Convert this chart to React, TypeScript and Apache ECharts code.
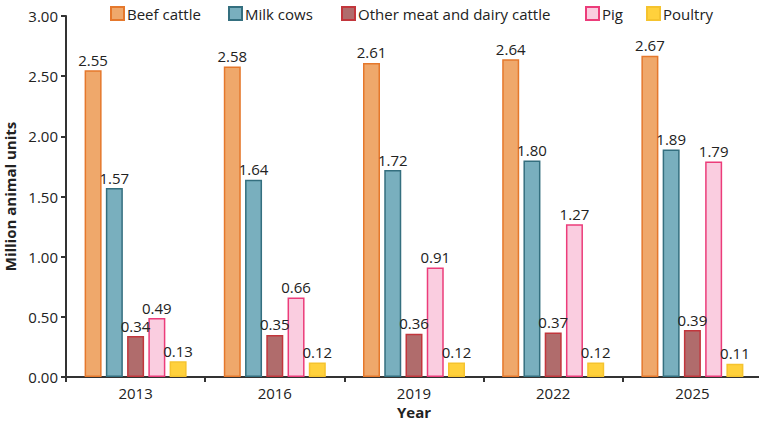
import React, { useEffect, useRef } from "react";
import * as echarts from "echarts";

const years = ["2013", "2016", "2019", "2022", "2025"];
const beefCattle = [2.55, 2.58, 2.61, 2.64, 2.67];
const milkCows = [1.57, 1.64, 1.72, 1.8, 1.89];
const otherCattle = [0.34, 0.35, 0.36, 0.37, 0.39];
const pig = [0.49, 0.66, 0.91, 1.27, 1.79];
const poultry = [0.13, 0.12, 0.12, 0.12, 0.11];

const FONT = "'Open Sans', 'Noto Sans', sans-serif";

const seriesDefs = [
  { name: "Beef cattle", data: beefCattle, fill: "#EFA86B", border: "#E5782C", legendLeft: 110 },
  { name: "Milk cows", data: milkCows, fill: "#79AFBE", border: "#346F7F", legendLeft: 228 },
  { name: "Other meat and dairy cattle", data: otherCattle, fill: "#B06C6C", border: "#C2363C", legendLeft: 341 },
  { name: "Pig", data: pig, fill: "#FACDE0", border: "#EC3C7A", legendLeft: 585 },
  { name: "Poultry", data: poultry, fill: "#FFD13C", border: "#F5C32E", legendLeft: 646 },
];

export default function App() {
  const ref = useRef<HTMLDivElement>(null);

  useEffect(() => {
    document.body.style.margin = "0";
    if (!ref.current) return;
    const chart = echarts.init(ref.current, undefined, { renderer: "svg" });

    chart.setOption({
      animation: false,
      backgroundColor: "#ffffff",
      textStyle: { fontFamily: FONT },
      legend: seriesDefs.map((s) => ({
        data: [s.name],
        left: s.legendLeft,
        top: 6,
        itemWidth: 13,
        itemHeight: 13,
        itemGap: 0,
        padding: 0,
        icon: "rect",
        textStyle: { fontSize: 15, color: "#222", fontFamily: FONT, padding: [0, 0, 0, -2] },
      })),
      grid: { left: 66, right: -3, top: 16, bottom: 46, containLabel: false, outerBoundsMode: "none" },
      xAxis: {
        type: "category",
        data: years,
        name: "Year",
        nameLocation: "middle",
        nameGap: 24,
        nameTextStyle: { fontSize: 15, fontWeight: "bold", color: "#222", fontFamily: FONT },
        axisLine: { lineStyle: { color: "#333", width: 2 } },
        axisTick: { show: true, length: 5, lineStyle: { color: "#333", width: 2 } },
        axisLabel: { fontSize: 15, color: "#222", margin: 8, fontFamily: FONT },
      },
      yAxis: {
        type: "value",
        min: 0,
        max: 3,
        interval: 0.5,
        name: "Million animal units",
        nameLocation: "middle",
        nameGap: 46,
        nameTextStyle: { fontSize: 15, fontWeight: "bold", color: "#222", fontFamily: FONT },
        axisLine: { show: true, lineStyle: { color: "#333", width: 2 } },
        axisTick: { show: true, length: 5, lineStyle: { color: "#333", width: 2 } },
        axisLabel: { fontSize: 15, color: "#222", margin: 8, formatter: (v: number) => v.toFixed(2), fontFamily: FONT },
        splitLine: { show: false },
      },
      series: seriesDefs.map((s) => ({
        name: s.name,
        type: "bar",
        data: s.data,
        barWidth: 17,
        barGap: "25%",
        itemStyle: { color: s.fill, borderColor: s.border, borderWidth: 1.5 },
        label: {
          show: true,
          position: "top",
          distance: 3,
          fontSize: 15,
          color: "#222",
          fontFamily: FONT,
          formatter: (p: any) => Number(p.value).toFixed(2),
        },
      })),
    });

    return () => chart.dispose();
  }, []);

  return <div ref={ref} style={{ width: 759, height: 423 }} />;
}
